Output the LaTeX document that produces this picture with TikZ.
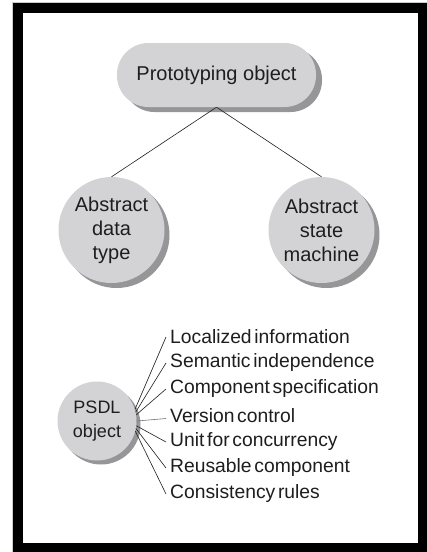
\documentclass[tikz,border=0pt]{standalone}
\usepackage{fontspec}
\setmainfont{Liberation Sans}
\usetikzlibrary{shadows}
\definecolor{fillgray}{RGB}{211,211,213}
\definecolor{shadegray}{RGB}{150,150,152}
\definecolor{inkc}{RGB}{30,30,30}
\newcommand\tightsp{\spaceskip=0.14em\relax}
\tikzset{
  shade5/.style={drop shadow={shadow xshift=5pt,shadow yshift=-5pt,fill=shadegray,opacity=1}},
  shade4/.style={drop shadow={shadow xshift=4pt,shadow yshift=-4pt,fill=shadegray,opacity=1}},
  pill/.style={fill=fillgray,rounded corners=31.5pt,minimum width=199pt,minimum height=64pt,inner sep=0pt,
    text=inkc,font=\fontsize{20}{24}\selectfont,
    drop shadow={shadow xshift=6pt,shadow yshift=-5pt,fill=shadegray,opacity=1}},
  bigcirc/.style={circle,fill=fillgray,minimum size=106pt,inner sep=0pt,align=center,text=inkc,
    font=\fontsize{20}{24}\selectfont,shade5},
  smallcirc/.style={circle,fill=fillgray,minimum size=79pt,inner sep=0pt,align=center,text=inkc,
    font=\fontsize{18}{23.5}\selectfont,shade4},
  item/.style={anchor=west,inner sep=0pt,text=inkc,font=\fontsize{19.3}{22}\selectfont},
  conn/.style={draw=inkc,line width=0.6pt},
}
\begin{document}
\begin{tikzpicture}[x=1pt,y=-1pt]
\useasboundingbox (0,0) rectangle (427,552);
\fill[white] (0,0) rectangle (427,552);
\draw[black!20,line width=1pt] (12.5,552) -- (12.5,2.5) -- (427,2.5);
\fill[black] (13,3) rectangle (427,552);
\fill[white] (23,13) rectangle (418,543);

\node[pill] (proto) at (216.5,75) {Prototyping object};
\node[bigcirc] (adt) at (111.5,230) {Abstract\\data\\type};
\node[bigcirc] (asm) at (321.5,230) {Abstract\\state\\machine};
\draw[conn] (proto.south) -- (adt.north);
\draw[conn] (proto.south) -- (asm.north);

\node[smallcirc] (psdl) at (97,421) {PSDL\\object};
\node[item] (i1) at (170,337) {\tightsp Localized information};
\node[item] (i2) at (170,363) {\tightsp Semantic independence};
\node[item] (i3) at (170,389) {\tightsp Component specification};
\node[item] (i4) at (170,415.5) {\tightsp Version control};
\node[item] (i5) at (170,442) {\tightsp Unit for concurrency};
\node[item] (i6) at (170,468) {\tightsp Reusable component};
\node[item] (i7) at (170,494) {\tightsp Consistency rules};

\draw[conn] (psdl.17) -- ([xshift=-4pt]i1.west);
\draw[conn] (psdl.13) -- ([xshift=-4pt]i2.west);
\draw[conn] (psdl.9) -- ([xshift=-4pt]i3.west);
\draw[conn,draw=black!55] (psdl.0) -- ([xshift=-4pt,yshift=-3pt]i4.west);
\draw[conn] (psdl.-7) -- ([xshift=-4pt]i5.west);
\draw[conn] (psdl.-11) -- ([xshift=-4pt]i6.west);
\draw[conn] (psdl.-15) -- ([xshift=-4pt]i7.west);
\end{tikzpicture}
\end{document}
